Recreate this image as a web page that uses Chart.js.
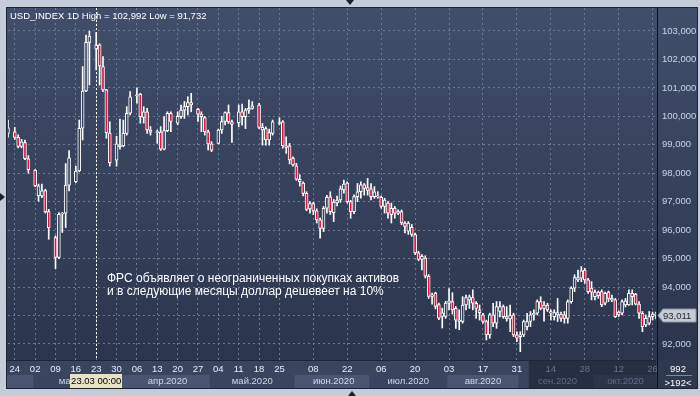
<!DOCTYPE html>
<html>
<head>
<meta charset="utf-8">
<script src="https://cdn.jsdelivr.net/npm/chart.js@4.4.1/dist/chart.umd.min.js"></script>
<style>
  html, body { margin: 0; padding: 0; }
  body { width: 700px; height: 396px; background: #c3ccd8; position: relative; overflow: hidden;
         font-family: 'Liberation Sans', Arial, sans-serif; }
  #wrap { position: absolute; left: 7px; top: 8px; width: 690px; height: 380px; outline: 1px solid #1d2433; }
  #wrap canvas { display: block; }
  .txt { position: absolute; color: #ffffff; white-space: pre; }
  .head { left: 10px; top: 10px; font-size: 9.5px; line-height: 11px; }
  .note { left: 107px; top: 272px; font-size: 12px; line-height: 13.4px; }
  .corner { left: 658px; width: 40px; text-align: center; font-size: 9.5px; line-height: 11px; }
  .rule { position: absolute; left: 666px; top: 375px; width: 26px; height: 1px; background: #7c8aa3; }
  .tri { position: absolute; width: 0; height: 0; }
  .tri.top  { left: 346px; top: 0;     border-left: 4px solid transparent; border-right: 4px solid transparent; border-top: 5px solid #1b2130; }
  .tri.bot  { left: 348px; top: 391px; border-left: 4px solid transparent; border-right: 4px solid transparent; border-bottom: 5px solid #1b2130; }
  .tri.left { left: 0; top: 193px;     border-top: 4px solid transparent; border-bottom: 4px solid transparent; border-left: 5px solid #1b2130; }
</style>
</head>
<body>
<div id="wrap"><canvas id="chart" width="690" height="380"></canvas></div>
<div class="txt head">USD_INDEX 1D High = 102,992 Low = 91,732</div>
<div class="txt note">ФРС объявляет о неограниченных покупках активов<br>и в следующие месяцы доллар дешевеет на 10%</div>
<div class="txt corner" style="top:363px">992</div>
<div class="rule"></div>
<div class="txt corner" style="top:377px">&gt;192&lt;</div>
<div class="tri top"></div>
<div class="tri bot"></div>
<div class="tri left"></div>

<script>
// ── Data: one slot per daily bar, '' / null = empty weekend slot ──
const dates = [
  '21.02', '', '24.02', '25.02', '26.02', '27.02', '28.02',
  '', '02.03', '03.03', '04.03', '05.03', '06.03',
  '', '09.03', '10.03', '11.03', '12.03', '13.03',
  '', '16.03', '17.03', '18.03', '19.03', '20.03',
  '', '23.03', '24.03', '25.03', '26.03', '27.03',
  '', '30.03', '31.03', '01.04', '02.04', '03.04',
  '', '06.04', '07.04', '08.04', '09.04', '10.04',
  '', '13.04', '14.04', '15.04', '16.04', '17.04',
  '', '20.04', '21.04', '22.04', '23.04', '24.04',
  '', '27.04', '28.04', '29.04', '30.04', '01.05',
  '', '04.05', '05.05', '06.05', '07.05', '08.05',
  '', '11.05', '12.05', '13.05', '14.05', '15.05',
  '', '18.05', '19.05', '20.05', '21.05', '22.05',
  '', '25.05', '26.05', '27.05', '28.05', '29.05',
  '01.06', '02.06', '03.06', '04.06', '05.06',
  '08.06', '09.06', '10.06', '11.06', '12.06',
  '15.06', '16.06', '17.06', '18.06', '19.06',
  '22.06', '23.06', '24.06', '25.06', '26.06',
  '29.06', '30.06', '01.07', '02.07', '03.07',
  '06.07', '07.07', '08.07', '09.07', '10.07',
  '13.07', '14.07', '15.07', '16.07', '17.07',
  '20.07', '21.07', '22.07', '23.07', '24.07',
  '27.07', '28.07', '29.07', '30.07', '31.07',
  '03.08', '04.08', '05.08', '06.08', '07.08',
  '10.08', '11.08', '12.08', '13.08', '14.08',
  '17.08', '18.08', '19.08', '20.08', '21.08',
  '24.08', '25.08', '26.08', '27.08', '28.08',
  '31.08', '01.09', '02.09', '03.09', '04.09',
  '07.09', '08.09', '09.09', '10.09', '11.09',
  '14.09', '15.09', '16.09', '17.09', '18.09',
  '21.09', '22.09', '23.09', '24.09', '25.09',
  '28.09', '29.09', '30.09', '01.10', '02.10',
  '05.10', '06.10', '07.10', '08.10', '09.10',
  '12.10', '13.10', '14.10', '15.10', '16.10',
  '19.10', '20.10', '21.10', '22.10', '23.10',
  '26.10', '27.10',
];

const opens = [
  99.40, null, 99.46, 99.26, 98.94, 99.08, 98.51, null, 98.11, 97.20,
  97.20, 97.39, 96.65, null, 95.74, 95.04, 96.56, 96.60, 97.58, null,
  97.70, 98.08, 99.58, 100.89, 102.60, null, 102.36, 102.51, 101.75, 100.93,
  99.41, null, 98.46, 99.00, 98.96, 99.40, 100.11, null, 100.76, 100.78,
  99.96, 100.16, 99.52, null, 99.43, 99.45, 98.85, 99.50, 100.11, null,
  99.76, 99.99, 100.22, 100.34, 100.48, null, 100.25, 100.08, 99.96, 99.46,
  99.03, null, 99.05, 99.52, 99.82, 100.13, 99.81, null, 99.78, 100.16,
  99.99, 100.22, 100.28, null, 100.40, 99.52, 99.57, 99.17, 99.40, null,
  99.75, 99.81, 98.96, 98.96, 98.53, 98.26, 97.70, 97.65, 97.29, 96.75,
  96.93, 96.68, 96.36, 96.06, 96.77, 97.17, 96.61, 96.96, 97.06, 97.41,
  97.65, 97.00, 96.65, 97.18, 97.35, 97.59, 97.40, 97.45, 97.18, 97.20,
  97.15, 96.83, 96.95, 96.77, 96.77, 96.60, 96.65, 96.25, 95.96, 96.10,
  95.84, 95.20, 94.97, 95.02, 94.38, 93.67, 93.79, 93.38, 92.97, 92.97,
  93.43, 93.49, 93.25, 92.79, 92.79, 93.37, 93.55, 93.63, 93.43, 93.20,
  93.02, 92.79, 92.32, 93.02, 92.73, 93.14, 93.31, 92.96, 92.88, 93.02,
  92.32, 92.26, 92.32, 92.61, 92.79, 93.02, 93.08, 93.49, 93.25, 93.37,
  93.08, 92.96, 93.02, 93.05, 93.02, 92.90, 93.49, 93.96, 94.25, 94.31,
  94.60, 94.25, 93.96, 93.66, 93.82, 93.84, 93.43, 93.82, 93.60, 93.55,
  93.12, 93.08, 93.37, 93.37, 93.78, 93.75, 93.40, 93.08, 92.67, 92.73,
  92.96, 93.05,
];

const highs = [
  99.87, null, 99.61, 99.35, 99.19, 99.17, 98.62, null, 98.13, 97.62,
  97.62, 97.44, 96.73, null, 95.80, 96.62, 96.62, 98.34, 98.80, null,
  98.25, 99.87, 101.75, 102.86, 102.99, null, 102.95, 102.55, 102.10, 100.95,
  99.81, null, 99.30, 99.90, 99.87, 100.34, 100.87, null, 101.00, 100.81,
  100.34, 100.28, 99.64, null, 99.52, 99.64, 99.99, 100.16, 100.16, null,
  100.16, 100.40, 100.52, 100.69, 100.81, null, 100.28, 100.16, 99.99, 99.52,
  99.11, null, 99.55, 100.00, 100.16, 100.40, 99.87, null, 100.40, 100.43,
  100.28, 100.58, 100.52, null, 100.46, 99.75, 99.63, 99.55, 99.87, null,
  99.95, 99.85, 99.28, 99.05, 98.58, 98.35, 97.95, 97.70, 97.35, 97.00,
  96.98, 96.75, 96.42, 96.83, 97.22, 97.35, 97.08, 97.20, 97.55, 97.76,
  97.70, 97.05, 97.24, 97.64, 97.70, 97.64, 97.82, 97.64, 97.53, 97.35,
  97.20, 97.12, 97.00, 96.95, 96.83, 96.71, 96.71, 96.30, 96.30, 96.20,
  95.90, 95.26, 95.14, 95.10, 94.44, 93.79, 93.82, 93.44, 93.26, 93.50,
  93.95, 93.80, 93.31, 93.20, 93.66, 93.72, 93.72, 93.90, 93.49, 93.37,
  93.08, 92.84, 93.08, 93.43, 93.49, 93.49, 93.37, 93.31, 93.37, 93.08,
  92.43, 92.43, 92.84, 93.08, 93.14, 93.20, 93.55, 93.66, 93.49, 93.43,
  93.20, 93.20, 93.60, 93.12, 93.14, 93.55, 94.01, 94.43, 94.60, 94.72,
  94.66, 94.31, 94.19, 93.90, 93.86, 93.90, 93.82, 93.86, 93.72, 93.60,
  93.16, 93.55, 93.60, 93.90, 93.90, 93.78, 93.49, 93.14, 93.02, 93.14,
  93.12, 93.12,
];

const lows = [
  99.27, null, 99.19, 98.89, 98.89, 98.48, 98.00, null, 97.53, 97.02,
  97.14, 96.60, 95.68, null, 94.65, 95.00, 95.92, 96.09, 97.38, null,
  97.67, 98.05, 99.17, 100.87, 101.10, null, 101.63, 101.10, 100.87, 99.23,
  98.25, null, 98.25, 98.85, 98.93, 99.34, 100.05, null, 100.46, 99.76,
  99.76, 99.40, 99.34, null, 99.05, 98.80, 98.82, 99.46, 99.46, null,
  99.70, 99.93, 99.93, 100.05, 100.16, null, 99.82, 99.46, 99.34, 98.82,
  98.76, null, 99.03, 99.40, 99.70, 99.75, 99.08, null, 99.63, 99.69,
  99.57, 100.10, 100.25, null, 99.57, 98.99, 98.99, 98.99, 99.34, null,
  99.70, 98.88, 98.70, 98.33, 98.25, 97.75, 97.55, 97.20, 96.68, 96.60,
  96.55, 96.25, 95.72, 95.95, 96.60, 96.55, 96.30, 96.85, 96.98, 97.30,
  96.95, 96.42, 96.58, 97.00, 97.12, 97.23, 97.23, 97.06, 97.12, 97.12,
  96.77, 96.60, 96.42, 96.25, 96.42, 96.54, 96.19, 95.90, 95.85, 95.78,
  95.14, 94.92, 94.60, 94.32, 93.60, 93.40, 93.23, 92.85, 92.56, 92.90,
  93.20, 93.05, 92.55, 92.50, 92.73, 93.20, 93.25, 93.20, 92.90, 92.84,
  92.73, 92.14, 92.20, 92.61, 92.55, 92.95, 92.90, 92.80, 92.43, 92.26,
  92.08, 91.73, 92.26, 92.49, 92.61, 92.84, 93.02, 93.20, 92.80, 93.14,
  92.84, 92.84, 92.79, 92.79, 92.73, 92.73, 93.43, 93.84, 94.19, 94.19,
  94.13, 93.78, 93.55, 93.55, 93.60, 93.31, 93.37, 93.49, 93.49, 92.93,
  92.96, 93.02, 93.30, 93.35, 93.37, 93.37, 92.90, 92.43, 92.61, 92.67,
  92.84, 92.88,
];

const closes = [
  99.60, null, 99.26, 98.94, 99.10, 98.51, 98.13, null, 97.56, 97.56,
  97.38, 96.64, 96.09, null, 95.04, 96.56, 96.60, 97.58, 98.54, null,
  98.08, 99.58, 100.89, 102.60, 102.82, null, 102.51, 101.77, 100.93, 99.43,
  98.37, null, 99.03, 98.93, 99.40, 100.11, 100.69, null, 100.72, 99.99,
  100.16, 99.52, 99.44, null, 99.46, 98.85, 99.50, 100.11, 99.82, null,
  100.00, 100.22, 100.34, 100.48, 100.40, null, 100.08, 99.99, 99.46, 99.03,
  98.81, null, 99.52, 99.82, 100.13, 99.81, 99.72, null, 100.16, 99.99,
  100.22, 100.28, 100.37, null, 99.61, 99.61, 99.17, 99.43, 99.81, null,
  99.78, 98.96, 98.91, 98.47, 98.29, 97.79, 97.79, 97.29, 96.73, 96.93,
  96.68, 96.36, 96.06, 96.77, 97.15, 96.65, 96.99, 97.06, 97.45, 97.62,
  97.00, 96.65, 97.18, 97.35, 97.59, 97.47, 97.50, 97.18, 97.35, 97.17,
  96.83, 97.06, 96.60, 96.54, 96.60, 96.65, 96.25, 96.13, 96.25, 95.85,
  95.20, 94.97, 95.08, 94.38, 93.67, 93.73, 93.32, 92.91, 93.09, 93.44,
  93.52, 93.20, 92.84, 92.84, 93.37, 93.63, 93.66, 93.43, 93.25, 93.10,
  92.79, 92.32, 93.02, 92.73, 93.31, 93.31, 92.96, 92.88, 93.00, 92.32,
  92.20, 92.32, 92.79, 92.79, 93.02, 93.08, 93.49, 93.25, 93.37, 93.20,
  93.14, 93.10, 93.10, 92.90, 92.90, 93.49, 93.96, 94.33, 94.33, 94.57,
  94.25, 93.84, 93.82, 93.82, 93.70, 93.37, 93.78, 93.60, 93.55, 92.96,
  93.02, 93.49, 93.52, 93.78, 93.66, 93.40, 93.08, 92.61, 92.90, 92.96,
  93.05, 93.011,
];

// Slots that carry a day label on the time axis
const dayTickSlots = [2, 8, 14, 20, 26, 32, 38, 44, 50, 56, 62, 68, 74, 80,
                      90, 100, 110, 120, 130, 140, 150, 160, 170, 180, 190];
// First slot of each month band and its caption
const monthStarts = [0, 8, 34, 60, 85, 107, 130, 151, 173];
const monthNames  = ['', 'мар.2020', 'апр.2020', 'май.2020', 'июн.2020', 'июл.2020', 'авг.2020', 'сен.2020', 'окт.2020'];

const cursorSlot = 26;              // 23.03, the crosshair
const cursorText = '23.03 00:00';
const dimFromSlot = 154;            // axis strip is shaded from here on
const yMin = 91.436, yMax = 103.808;

// ── Look ────────────────────────────────────────────────────────
const GRID   = '#6c7a96';
const RED    = '#e3103c';
const canvas = document.getElementById('chart');
const bgGrad = canvas.getContext('2d').createLinearGradient(0, 0, 0, 352);
bgGrad.addColorStop(0, '#414e6a');
bgGrad.addColorStop(1, '#2b354d');

Chart.defaults.font.family = "'Liberation Sans', Arial, sans-serif";
Chart.defaults.font.size = 9.5;

const tickSet = new Set(dayTickSlots);
const monthLabelAt = {};
monthStarts.forEach((s, i) => {
  const end = i + 1 < monthStarts.length ? monthStarts[i + 1] - 1 : dates.length - 1;
  monthLabelAt[Math.round((s + end) / 2)] = monthNames[i];
});
const fmt3 = v => v.toFixed(3).replace('.', ',');

const wicks  = highs.map((h, i) => h == null ? null : [lows[i], h]);
const bodies = opens.map((o, i) => o == null ? null : [o, closes[i]]);
const bodyFill = opens.map((o, i) => o == null ? 'transparent' : (closes[i] >= o ? bgGrad : RED));

// ── Decoration drawn around the library's own scales ────────────
const chrome = {
  id: 'chrome',
  beforeDraw(chart) {
    const { ctx, chartArea: a, scales: { x } } = chart;
    const half = (x.getPixelForValue(1) - x.getPixelForValue(0)) / 2;
    ctx.save();
    ctx.fillStyle = bgGrad;
    ctx.fillRect(0, 0, chart.width, a.bottom);
    ctx.fillStyle = '#39455f';
    ctx.fillRect(0, a.bottom, chart.width, chart.height - a.bottom);
    monthStarts.forEach((s, i) => {
      const x0 = i === 0 ? 0 : x.getPixelForValue(s) - half;
      const x1 = i + 1 < monthStarts.length ? x.getPixelForValue(monthStarts[i + 1]) - half : a.right;
      ctx.fillStyle = i % 2 === 0 ? '#4a5671' : '#39455f';
      ctx.fillRect(x0, a.bottom + 15, x1 - x0, chart.height - a.bottom - 15);
    });
    const xd = x.getPixelForValue(dimFromSlot) - half;
    ctx.fillStyle = '#262e42';
    ctx.fillRect(xd, a.bottom, a.right - xd, chart.height - a.bottom);
    ctx.fillStyle = '#2b3449';
    const xo = x.getPixelForValue(monthStarts[8]) - half;
    ctx.fillRect(xo, a.bottom + 15, a.right - xo, chart.height - a.bottom - 15);
    ctx.fillStyle = '#2e384f';
    ctx.fillRect(a.right, a.bottom, chart.width - a.right, chart.height - a.bottom);
    ctx.restore();
  },
  afterDatasetsDraw(chart) {
    const { ctx, chartArea: a, scales: { x } } = chart;
    const cx = Math.round(x.getPixelForValue(cursorSlot)) + 0.5;
    ctx.save();
    ctx.strokeStyle = '#ffffff';
    ctx.setLineDash([2, 2]);
    ctx.beginPath();
    ctx.moveTo(cx, a.top);
    ctx.lineTo(cx, a.bottom);
    ctx.stroke();
    ctx.restore();
  },
  afterDraw(chart) {
    const { ctx, chartArea: a, scales: { x, y } } = chart;
    ctx.save();
    // plot frame lines
    ctx.fillStyle = '#1e2534';
    ctx.fillRect(0, a.bottom, a.right, 1);
    ctx.fillStyle = '#0d111a';
    ctx.fillRect(a.right + 1, 0, 1, chart.height);
    // crosshair date box
    const cx = x.getPixelForValue(cursorSlot);
    ctx.fillStyle = '#e6e2c2';
    ctx.fillRect(Math.round(cx - 26), a.bottom + 14, 52, 14);
    ctx.fillStyle = '#000000';
    ctx.font = "9.5px 'Liberation Sans', Arial, sans-serif";
    ctx.textAlign = 'center';
    ctx.textBaseline = 'middle';
    ctx.fillText(cursorText, cx, a.bottom + 21.5);
    // last price marker
    const last = closes[closes.length - 1];
    const py = Math.round(y.getPixelForValue(last)) + 0.5;
    const lx = a.right + 2;
    ctx.beginPath();
    ctx.moveTo(lx, py);
    ctx.lineTo(lx + 5, py - 6.5);
    ctx.lineTo(chart.width - 1, py - 6.5);
    ctx.lineTo(chart.width - 1, py + 6.5);
    ctx.lineTo(lx + 5, py + 6.5);
    ctx.closePath();
    ctx.fillStyle = '#c7ccd4';
    ctx.fill();
    ctx.strokeStyle = '#8893a6';
    ctx.lineWidth = 1;
    ctx.stroke();
    ctx.fillStyle = '#1b2232';
    ctx.textAlign = 'left';
    ctx.fillText(fmt3(last), lx + 5, py + 0.5);
    ctx.restore();
  },
};

// ── Chart ───────────────────────────────────────────────────────
new Chart(canvas, {
  type: 'bar',
  data: {
    labels: dates,
    datasets: [
      { label: 'body', data: bodies, order: 0, grouped: false, barThickness: 3,
        backgroundColor: bodyFill, borderColor: '#ffffff', borderWidth: 1,
        borderSkipped: false, minBarLength: 1 },
      { label: 'wick', data: wicks, order: 1, grouped: false, barThickness: 1,
        backgroundColor: '#ffffff', borderWidth: 0 },
    ],
  },
  options: {
    responsive: false,
    animation: false,
    layout: { padding: { left: 1, right: 0, top: 0, bottom: 0 } },
    plugins: { legend: { display: false }, tooltip: { enabled: false } },
    scales: {
      x: {
        type: 'category', position: 'bottom', weight: 0, offset: false,
        grid: { offset: false, drawTicks: false, color: c => tickSet.has(c.index) ? GRID : 'transparent' },
        border: { display: false, dash: [2, 3] },
        ticks: {
          autoSkip: false, maxRotation: 0, padding: 4,
          color: c => c.index >= dimFromSlot ? '#66748e' : '#e6ecf6',
          callback: (v, i) => tickSet.has(i) ? dates[i].slice(0, 2) : '',
        },
        afterFit: s => { s.height = 15; s.paddingLeft = 0; s.paddingRight = 0; },
      },
      x2: {
        type: 'category', labels: dates, position: 'bottom', weight: 1, offset: false,
        grid: { display: false, drawTicks: false },
        border: { display: false },
        ticks: {
          autoSkip: false, maxRotation: 0, padding: 1,
          color: c => c.index >= dimFromSlot ? '#5f6d87' : '#cfd8e6',
          callback: (v, i) => monthLabelAt[i] || '',
        },
        afterFit: s => { s.height = 13; s.paddingLeft = 0; s.paddingRight = 0; },
      },
      y: {
        position: 'right', min: yMin, max: yMax,
        grid: { color: GRID, drawTicks: false },
        border: { display: false, dash: [2, 3] },
        ticks: { stepSize: 1, includeBounds: false, padding: 6, color: '#c8d5ea', callback: v => fmt3(v) },
        afterFit: s => { s.width = 41; s.paddingTop = 0; s.paddingBottom = 0; },
      },
    },
  },
  plugins: [chrome],
});
</script>
</body>
</html>
